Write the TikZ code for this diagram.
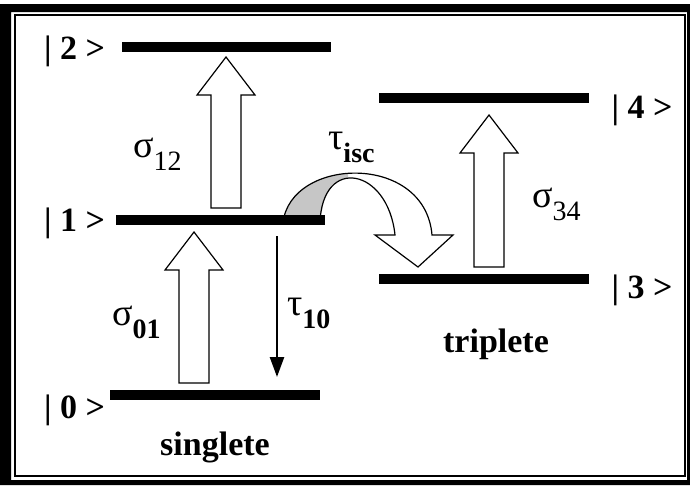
\documentclass[tikz,border=0pt]{standalone}
\usepackage{fontspec}
\setmainfont{Liberation Serif}
\usetikzlibrary{arrows.meta,positioning}

\newcommand{\rate}[3][\mdseries]{{\fontsize{38}{38}\selectfont #2}\raisebox{-13pt}{\fontsize{28}{28}\selectfont #1#3}}
\newcommand{\blockup}[2]{\draw[hollow, shift={(#1)}] (-15,0) -- (-15,-#2+38) -- (-29,-#2+38) -- (0,-#2) -- (29,-#2+38) -- (15,-#2+38) -- (15,0) -- cycle;}

\begin{document}
\begin{tikzpicture}[
x=1pt, y=-1pt,
level/.style={line width=10pt},
ket/.style={font=\fontsize{34}{34}\selectfont\bfseries, anchor=base, inner sep=0pt},
spin/.style={font=\fontsize{34}{34}\selectfont\bfseries, anchor=base, inner sep=0pt},
lab/.style={anchor=base west, inner sep=0pt},
hollow/.style={draw, fill=white, line width=1.2pt, line join=miter},
decay/.style={line width=2.5pt, -{Triangle[length=20pt, width=14pt]}}
]
\useasboundingbox (0,0) rectangle (690,485);
\fill[white] (0,0) rectangle (690,485);
% frame
\fill[black, even odd rule] (0,4) rectangle (690,485) (11,12) rectangle (687,480);
\draw[line width=2pt] (14.5,15) rectangle (685,476);

% absorption arrows
\coordinate (s01) at (194,383);
\coordinate (s12) at (226,208);
\coordinate (s34) at (489,267);
\blockup{s01}{151}
\blockup{s12}{151}
\blockup{s34}{152}

% intersystem crossing
\def\isc{(283,223) .. controls (290,157) and (425,152) .. (432,235) -- (453,235) -- (418,267) -- (375,235) -- (395,235) .. controls (388,168) and (322,155) .. (320,223) -- cycle}
\fill[white] \isc;
\begin{scope}
\clip (270,150) rectangle (348,230);
\fill[gray!45] \isc;
\end{scope}
\draw[line width=1.2pt, line join=miter] \isc;

% levels
\coordinate (l2a) at (122,46.5); \coordinate (l2b) at (331,46.5);
\coordinate (l1a) at (116,220);  \coordinate (l1b) at (325,220);
\coordinate (l0a) at (110,394.5); \coordinate (l0b) at (320,394.5);
\coordinate (l4a) at (379,98);   \coordinate (l4b) at (589,98);
\coordinate (l3a) at (379,278.5); \coordinate (l3b) at (589,278.5);
\draw[level] (l2a) -- (l2b);
\draw[level] (l1a) -- (l1b);
\draw[level] (l0a) -- (l0b);
\draw[level] (l4a) -- (l4b);
\draw[level] (l3a) -- (l3b);

% decay
\coordinate (t10a) at (277,236);
\coordinate (t10b) at (277,377);
\draw[decay] (t10a) -- (t10b);

\node[ket] (k2) at (74.5,59) {| 2 >};
\node[ket] (k1) at (74.5,231) {| 1 >};
\node[ket] (k0) at (74.5,418) {| 0 >};
\node[ket] (k4) at (642,118) {| 4 >};
\node[ket] (k3) at (642,298) {| 3 >};

\node[lab] (r12) at (133,157) {\rate{σ}{12}};
\node[lab] (r01) at (112,325) {\rate[\bfseries]{σ}{01}};
\node[lab] (r10) at (287,315) {\rate[\bfseries]{τ}{10}};
\node[lab] (r34) at (532,207) {\rate{σ}{34}};
\node[lab] (risc) at (328,149) {\rate[\bfseries]{τ}{isc}};

\node[spin] (sing) at (215,455) {singlete};
\node[spin] (trip) at (496,352) {triplete};
\end{tikzpicture}
\end{document}
